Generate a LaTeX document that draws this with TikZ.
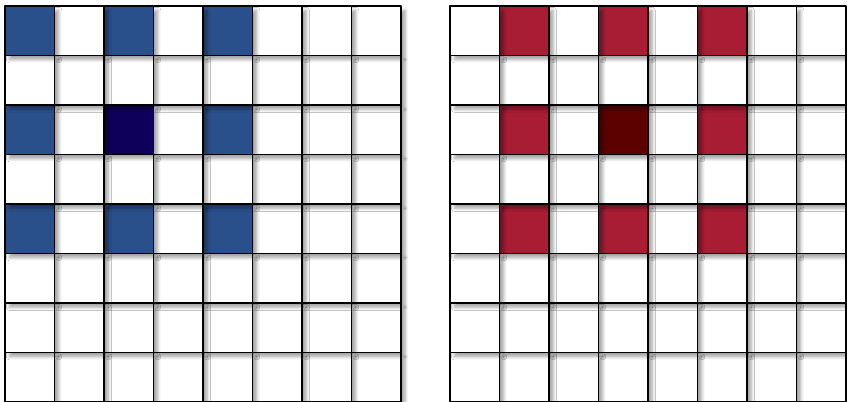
\documentclass[tikz,border=0pt]{standalone}
\usetikzlibrary{shadows.blur}
\definecolor{cellblue}{RGB}{42,80,140}
\definecolor{cellnavy}{RGB}{14,0,90}
\definecolor{cellred}{RGB}{168,28,52}
\definecolor{cellmaroon}{RGB}{92,0,0}
\definecolor{shadowtint}{RGB}{40,40,110}
\begin{document}
\begin{tikzpicture}[line join=round,
		cell/.style={draw=black, line width=0.8pt, minimum size=1cm, inner sep=0pt,
			blur shadow={shadow xshift=2.5pt, shadow yshift=-2.5pt, shadow blur steps=6, shadow opacity=35, fill=shadowtint}}]
		\useasboundingbox (0,0) rectangle (17.11,8.12);
		% two 8x8 grids, marked cells every second row and column
		% drawn from the bottom right so each shadow falls on its neighbours
		\foreach \g/\x/\o/\hot/\core in {L/0.1/0/cellblue/cellnavy, R/9.09/1/cellred/cellmaroon}{
			\foreach \r in {7,6,...,0}{
				\foreach \c in {7,6,...,0}{
					\pgfmathtruncatemacro\k{\c-\o}
					\pgfmathtruncatemacro\on{and(and(mod(\r,2)==0,\r<5),and(mod(\k,2)==0,and(\k>=0,\k<5)))}
					\pgfmathtruncatemacro\mid{and(\r==2,\k==2)}
					\def\fc{white}
					\ifnum\on=1 \def\fc{\hot}\fi
					\ifnum\mid=1 \def\fc{\core}\fi
					\node[cell, fill=\fc] (\g-\r-\c) at (\x+\c+0.5,7.5-\r) {};
				}
			}
		}
	\end{tikzpicture}
\end{document}
